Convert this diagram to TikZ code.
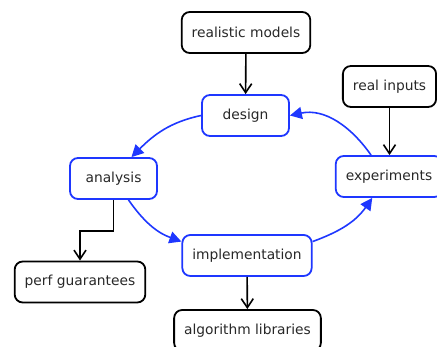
\documentclass[tikz,border=0pt]{standalone}
\usepackage{fontspec}
\setmainfont{DejaVu Sans}
\usepackage{tikz}
\usetikzlibrary{arrows.meta}
\definecolor{cycleblue}{RGB}{30,55,255}
\definecolor{labelgray}{RGB}{40,40,40}

\begin{document}
\begin{tikzpicture}[x=1pt,y=1pt,
		box/.style={draw, line width=1.8pt, rounded corners=8pt, minimum width=87pt, minimum height=41pt, inner xsep=10pt, text=labelgray, font=\fontsize{13.8}{16}\selectfont},
		stepbox/.style={box, draw=cycleblue},
		feed/.style={line width=1.6pt, -{Straight Barb[length=9pt,width=12pt]}},
		cyc/.style={line width=1.6pt, cycleblue, -{Triangle[length=12pt,width=12pt]}}]
		\useasboundingbox (0,0) rectangle (437,347);
		\clip (0,0) rectangle (437,347);
		\node[box] (models) at (246,314.5) {realistic models};
		\node[stepbox] (design) at (245.5,231.5) {design};
		\node[box] (inputs) at (389.5,260.5) {real inputs};
		\node[stepbox] (analysis) at (113.5,168.5) {analysis};
		\node[stepbox] (experiments) at (389,170.5) {experiments};
		\node[stepbox] (implementation) at (247,91.5) {implementation};
		\node[box] (perf) at (80,65) {perf guarantees};
		\node[box] (libraries) at (247.5,16.5) {algorithm libraries};
		
		\draw[feed] (models) -- (design);
		\draw[feed] (inputs) -- (experiments.north -| inputs);
		\draw[feed] (analysis.south) -- ++(0,-31) -| (perf.north);
		\draw[feed] (implementation) -- (libraries);
		
		\draw[cyc] (design.west) to[out=192,in=45] (analysis.50);
		\draw[cyc] (analysis.-55) to[out=-55,in=160] (implementation.168);
		\draw[cyc] (implementation.12) to[out=20,in=235] (experiments.232);
		\draw[cyc] (experiments.130) to[out=125,in=12] (design.east);
\end{tikzpicture}
\end{document}
